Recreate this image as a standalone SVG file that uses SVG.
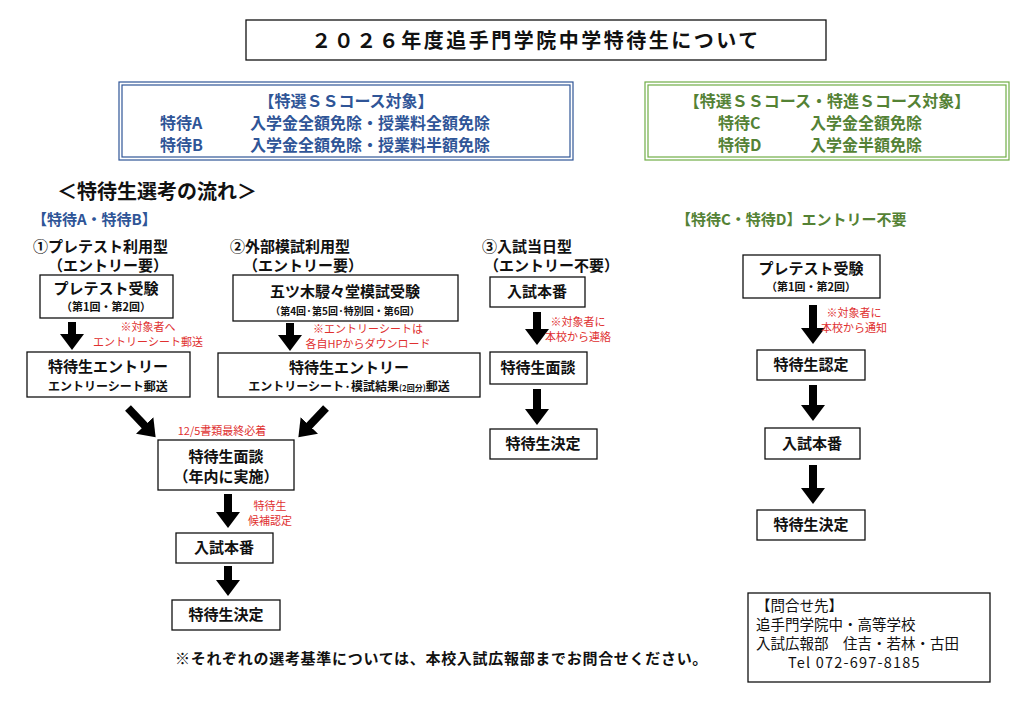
<svg xmlns="http://www.w3.org/2000/svg" width="1024" height="709" viewBox="0 0 1024 709">
<defs>
<marker id="ah" markerUnits="userSpaceOnUse" markerWidth="24" markerHeight="24" refX="2" refY="12" orient="auto" viewBox="0 0 24 24"><path d="M0,0 L16,12 L0,24 Z" fill="#000"/></marker>
</defs>
<style>
text{font-family:"Noto Sans CJK JP","Liberation Sans",sans-serif;font-weight:bold;fill:#111}
.c{text-anchor:middle}
.b{fill:#fff;stroke:#111;stroke-width:1.3}
.s{font-size:11px}
.m{font-size:15px}
.h{font-size:16px}
.r{fill:#e03030;font-size:11px;font-weight:normal}
.bl{fill:#2f5597}
.gr{fill:#548235}
.n{font-weight:normal;font-size:14.5px}
.ar{stroke:#000;stroke-width:8;fill:none;marker-end:url(#ah)}
</style>
<rect width="1024" height="709" fill="#fff"/>
<g id="title"><rect class="b" x="246" y="20" width="580" height="40"/><text class="c" x="536" y="48" font-size="20" letter-spacing="2.5">２０２６年度追手門学院中学特待生について</text></g>
<g id="blue-box"><rect x="119" y="82" width="454" height="78" fill="#fff" stroke="#2f5597" stroke-width="1.2"/><rect x="122" y="85" width="448" height="72" fill="none" stroke="#2f5597" stroke-width="1.2"/>
<text class="c bl h" x="346" y="107">【特選ＳＳコース対象】</text>
<text class="bl h" x="160" y="129">特待A</text><text class="bl h" x="250" y="129">入学金全額免除・授業料全額免除</text>
<text class="bl h" x="160" y="151">特待B</text><text class="bl h" x="250" y="151">入学金全額免除・授業料半額免除</text></g>
<g id="green-box"><rect x="645" y="82" width="364" height="78" fill="#fff" stroke="#70ad47" stroke-width="1.2"/><rect x="648" y="85" width="358" height="72" fill="none" stroke="#70ad47" stroke-width="1.2"/>
<text class="c gr h" x="827" y="107">【特選ＳＳコース・特進Ｓコース対象】</text>
<text class="gr h" x="718" y="129">特待C</text><text class="gr h" x="810" y="129">入学金全額免除</text>
<text class="gr h" x="718" y="151">特待D</text><text class="gr h" x="810" y="151">入学金半額免除</text></g>
<text x="57" y="199" font-size="20">＜特待生選考の流れ＞</text>
<text class="bl m" x="32" y="225">【特待A・特待B】</text>
<text class="gr m" x="676" y="225">【特待C・特待D】エントリー不要</text>
<text class="m" x="33" y="252">①プレテスト利用型</text><text class="m" x="48" y="271">（エントリー要）</text>
<text class="m" x="230" y="252">②外部模試利用型</text><text class="m" x="243" y="271">（エントリー要）</text>
<text class="m" x="482" y="252">③入試当日型</text><text class="m" x="484" y="271">（エントリー不要）</text>
<g id="connectors">
<line class="ar" x1="72" y1="322" x2="72" y2="336"/>
<line class="ar" x1="290" y1="323" x2="290" y2="337"/>
<line class="ar" x1="128" y1="408" x2="146" y2="427"/>
<line class="ar" x1="326" y1="408" x2="308" y2="427"/>
<line class="ar" x1="228" y1="494" x2="228" y2="514"/>
<line class="ar" x1="228" y1="566" x2="228" y2="582"/>
<line class="ar" x1="537" y1="312" x2="537" y2="331"/>
<line class="ar" x1="537" y1="389" x2="537" y2="411"/>
<line class="ar" x1="813" y1="305" x2="813" y2="330"/>
<line class="ar" x1="813" y1="385" x2="813" y2="407"/>
<line class="ar" x1="813" y1="465" x2="813" y2="490"/>
</g>
<text class="r c" x="148" y="331">※対象者へ</text><text class="r c" x="148" y="346">エントリーシート郵送</text>
<text class="r c" x="368" y="333">※エントリーシートは</text><text class="r c" x="368" y="348">各自HPからダウンロード</text>
<text class="r c" x="222" y="435">12/5書類最終必着</text>
<text class="r c" x="270" y="510">特待生</text><text class="r c" x="270" y="525">候補認定</text>
<text class="r c" x="578" y="326">※対象者に</text><text class="r c" x="578" y="341">本校から連絡</text>
<text class="r c" x="854" y="317">※対象者に</text><text class="r c" x="854" y="332">本校から通知</text>
<g id="n1"><rect class="b" x="40" y="275" width="133" height="43"/><text class="c m" x="106" y="294">プレテスト受験</text><text class="c s" x="106" y="311">（第1回・第2回）</text></g>
<g id="n2"><rect class="b" x="27" y="352" width="163" height="45"/><text class="c m" x="108" y="372">特待生エントリー</text><text class="c" x="108" y="391" font-size="12">エントリーシート郵送</text></g>
<g id="n3"><rect class="b" x="233" y="275" width="225" height="46"/><text class="c m" x="345" y="297">五ツ木駸々堂模試受験</text><text class="c" x="345" y="315" font-size="10">（第4回·第5回·特別回・第6回）</text></g>
<g id="n4"><rect class="b" x="218" y="353" width="262" height="44"/><text class="c m" x="349" y="373">特待生エントリー</text><text class="c" x="349" y="391" font-size="12">エントリーシート·模試結果<tspan font-size="8">(2回分)</tspan>郵送</text></g>
<g id="n5"><rect class="b" x="158" y="440" width="136" height="50"/><text class="c m" x="226" y="462">特待生面談</text><text class="c m" x="226" y="482">（年内に実施）</text></g>
<g id="n6"><rect class="b" x="176" y="533" width="97" height="30"/><text class="c m" x="224" y="553">入試本番</text></g>
<g id="n7"><rect class="b" x="172" y="600" width="108" height="30"/><text class="c m" x="226" y="620">特待生決定</text></g>
<g id="n8"><rect class="b" x="490" y="277" width="95" height="30"/><text class="c m" x="537" y="297">入試本番</text></g>
<g id="n9"><rect class="b" x="490" y="352" width="97" height="32"/><text class="c m" x="538" y="373">特待生面談</text></g>
<g id="n10"><rect class="b" x="490" y="429" width="107" height="30"/><text class="c m" x="543" y="449">特待生決定</text></g>
<g id="n11"><rect class="b" x="743" y="255" width="137" height="43"/><text class="c m" x="811" y="274">プレテスト受験</text><text class="c s" x="811" y="291">（第1回・第2回）</text></g>
<g id="n12"><rect class="b" x="757" y="350" width="108" height="30"/><text class="c m" x="811" y="370">特待生認定</text></g>
<g id="n13"><rect class="b" x="765" y="428" width="95" height="31"/><text class="c m" x="812" y="449">入試本番</text></g>
<g id="n14"><rect class="b" x="757" y="510" width="108" height="30"/><text class="c m" x="811" y="530">特待生決定</text></g>
<text x="175" y="664" font-size="15" letter-spacing="0.7">※それぞれの選考基準については、本校入試広報部までお問合せください。</text>
<g id="contact"><rect class="b" x="748" y="593" width="242" height="89"/>
<text class="n" x="756" y="611">【問合せ先】</text>
<text class="n" x="756" y="630">追手門学院中・高等学校</text>
<text class="n" x="756" y="649">入試広報部　住吉・若林・古田</text>
<text class="n" x="788" y="668" letter-spacing="1.2">Tel  072-697-8185</text></g>
</svg>
